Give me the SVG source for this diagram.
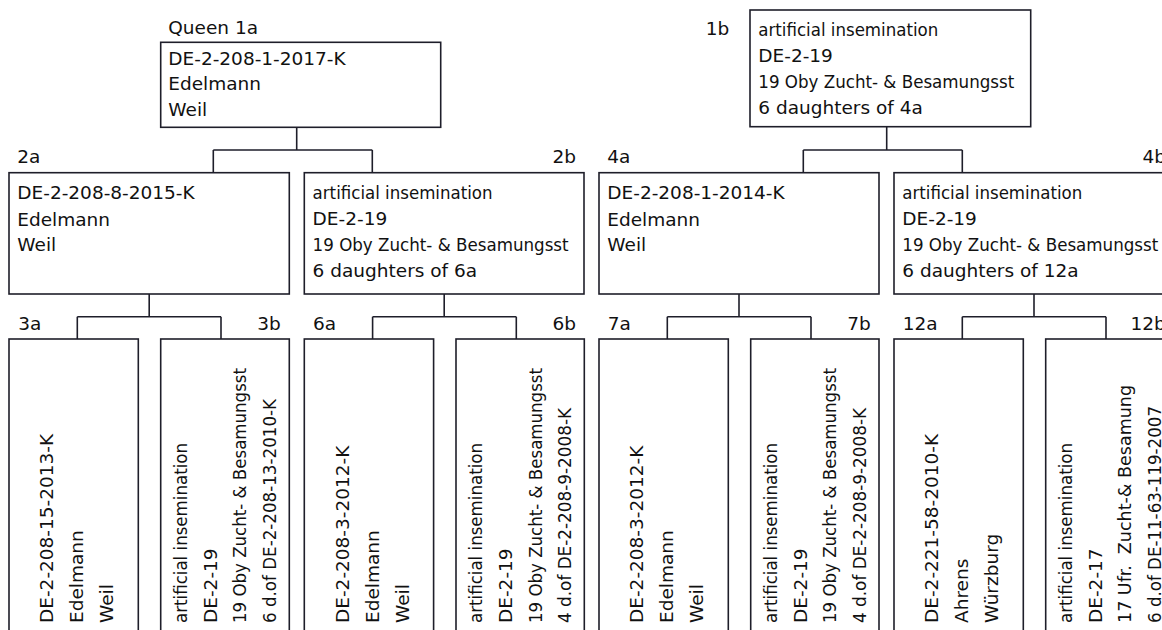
<svg xmlns="http://www.w3.org/2000/svg" width="1162" height="630" viewBox="0 0 1162 630">
<style>
.box{fill:#fff;stroke:#1e1e2a;stroke-width:1.6}
.conn path{fill:none;stroke:#1e1e2a;stroke-width:1.6}
text{font-family:"DejaVu Sans","Noto Sans",sans-serif;font-size:18.5px;fill:#111}
.cond{font-family:"DejaVu Sans Condensed","DejaVu Sans",sans-serif}
.end{text-anchor:end}
</style>
<rect width="1162" height="630" fill="#fff"/>
<g class="conn" id="connectors">
<path d="M296.7 127.3V150M213.3 150H372.3M213.3 150V172.7M372.3 150V172.7"/>
<path d="M886.7 126.7V150M803.3 150H962.3M803.3 150V172.7M962.3 150V172.7"/>
<path d="M149.2 294V316.7M77.3 316.7H221M77.3 316.7V339M221 316.7V339"/>
<path d="M444.2 294V316.7M372.6 316.7H516.3M372.6 316.7V339M516.3 316.7V339"/>
<path d="M739 294V316.7M667.3 316.7H811M667.3 316.7V339M811 316.7V339"/>
<path d="M1034 294V316.7M962.3 316.7H1106M962.3 316.7V339M1106 316.7V339"/>
</g>
<g id="n1a">
<text x="168.3" y="34.3">Queen 1a</text>
<rect class="box" x="160.7" y="42.3" width="280" height="85"/>
<text x="168.3" y="64.5">DE-2-208-1-2017-K</text>
<text x="168.3" y="90">Edelmann</text>
<text x="168.3" y="115.5">Weil</text>
</g>
<g id="n1b">
<text class="end" x="729.3" y="35">1b</text>
<rect class="box" x="750" y="10" width="280.7" height="116.7"/>
<text class="cond" x="758.3" y="36" textLength="180" lengthAdjust="spacingAndGlyphs">artificial insemination</text>
<text x="758.3" y="62.3">DE-2-19</text>
<text class="cond" x="758.3" y="88.3" textLength="256" lengthAdjust="spacingAndGlyphs">19 Oby Zucht- &amp; Besamungsst</text>
<text x="758.3" y="113.5">6 daughters of 4a</text>
</g>
<g id="n2a">
<text x="17.3" y="163.3">2a</text>
<rect class="box" x="9" y="172.7" width="280.3" height="121.3"/>
<text x="17.3" y="199.3">DE-2-208-8-2015-K</text>
<text x="17.3" y="225.5">Edelmann</text>
<text x="17.3" y="251.3">Weil</text>
</g>
<g id="n2b">
<text class="end" x="576" y="163.3">2b</text>
<rect class="box" x="304.3" y="172.7" width="279.7" height="121.3"/>
<text class="cond" x="312.6" y="198.7" textLength="180" lengthAdjust="spacingAndGlyphs">artificial insemination</text>
<text x="312.6" y="225">DE-2-19</text>
<text class="cond" x="312.6" y="251.2" textLength="256" lengthAdjust="spacingAndGlyphs">19 Oby Zucht- &amp; Besamungsst</text>
<text x="312.6" y="277.4">6 daughters of 6a</text>
</g>
<g id="n4a">
<text x="607.3" y="163.3">4a</text>
<rect class="box" x="599" y="172.7" width="280" height="121.3"/>
<text x="607.3" y="199.3">DE-2-208-1-2014-K</text>
<text x="607.3" y="225.5">Edelmann</text>
<text x="607.3" y="251.3">Weil</text>
</g>
<g id="n4b">
<text class="end" x="1166" y="163.3">4b</text>
<rect class="box" x="894" y="172.7" width="280" height="121.3"/>
<text class="cond" x="902.3" y="198.7" textLength="180" lengthAdjust="spacingAndGlyphs">artificial insemination</text>
<text x="902.3" y="225">DE-2-19</text>
<text class="cond" x="902.3" y="251.2" textLength="256" lengthAdjust="spacingAndGlyphs">19 Oby Zucht- &amp; Besamungsst</text>
<text x="902.3" y="277.4">6 daughters of 12a</text>
</g>
<g id="n3a">
<text x="18.3" y="330">3a</text>
<rect class="box" x="9" y="339" width="129.3" height="310"/>
<text transform="translate(53.3,623) rotate(-90)">DE-2-208-15-2013-K</text>
<text transform="translate(83.3,623) rotate(-90)">Edelmann</text>
<text transform="translate(113.3,623) rotate(-90)">Weil</text>
</g>
<g id="n3b">
<text class="end" x="280.7" y="330">3b</text>
<rect class="box" x="160.7" y="339" width="128.6" height="310"/>
<text class="cond" transform="translate(186.7,623) rotate(-90)" textLength="180" lengthAdjust="spacingAndGlyphs">artificial insemination</text>
<text transform="translate(216.5,623) rotate(-90)">DE-2-19</text>
<text class="cond" transform="translate(246.3,623) rotate(-90)" textLength="255" lengthAdjust="spacingAndGlyphs">19 Oby Zucht- &amp; Besamungsst</text>
<text class="cond" transform="translate(276.1,623) rotate(-90)" textLength="224" lengthAdjust="spacingAndGlyphs">6 d.of DE-2-208-13-2010-K</text>
</g>
<g id="n6a">
<text x="313" y="330">6a</text>
<rect class="box" x="304.3" y="339" width="129.3" height="310"/>
<text transform="translate(348.6,623) rotate(-90)">DE-2-208-3-2012-K</text>
<text transform="translate(378.6,623) rotate(-90)">Edelmann</text>
<text transform="translate(408.6,623) rotate(-90)">Weil</text>
</g>
<g id="n6b">
<text class="end" x="576" y="330">6b</text>
<rect class="box" x="456" y="339" width="128.3" height="310"/>
<text class="cond" transform="translate(482,623) rotate(-90)" textLength="180" lengthAdjust="spacingAndGlyphs">artificial insemination</text>
<text transform="translate(511.8,623) rotate(-90)">DE-2-19</text>
<text class="cond" transform="translate(541.6,623) rotate(-90)" textLength="255" lengthAdjust="spacingAndGlyphs">19 Oby Zucht- &amp; Besamungsst</text>
<text class="cond" transform="translate(571.4,623) rotate(-90)" textLength="215" lengthAdjust="spacingAndGlyphs">4 d.of DE-2-208-9-2008-K</text>
</g>
<g id="n7a">
<text x="607.8" y="330">7a</text>
<rect class="box" x="599" y="339" width="129.3" height="310"/>
<text transform="translate(643.3,623) rotate(-90)">DE-2-208-3-2012-K</text>
<text transform="translate(673.3,623) rotate(-90)">Edelmann</text>
<text transform="translate(703.3,623) rotate(-90)">Weil</text>
</g>
<g id="n7b">
<text class="end" x="870.7" y="330">7b</text>
<rect class="box" x="750.7" y="339" width="128.3" height="310"/>
<text class="cond" transform="translate(776.7,623) rotate(-90)" textLength="180" lengthAdjust="spacingAndGlyphs">artificial insemination</text>
<text transform="translate(806.5,623) rotate(-90)">DE-2-19</text>
<text class="cond" transform="translate(836.3,623) rotate(-90)" textLength="255" lengthAdjust="spacingAndGlyphs">19 Oby Zucht- &amp; Besamungsst</text>
<text class="cond" transform="translate(866.1,623) rotate(-90)" textLength="215" lengthAdjust="spacingAndGlyphs">4 d.of DE-2-208-9-2008-K</text>
</g>
<g id="n12a">
<text x="902.8" y="330">12a</text>
<rect class="box" x="894" y="339" width="129.3" height="310"/>
<text transform="translate(938.3,623) rotate(-90)">DE-2-221-58-2010-K</text>
<text transform="translate(968.3,623) rotate(-90)">Ahrens</text>
<text transform="translate(998.3,623) rotate(-90)">Würzburg</text>
</g>
<g id="n12b">
<text class="end" x="1165.7" y="330">12b</text>
<rect class="box" x="1045.7" y="339" width="128.3" height="310"/>
<text class="cond" transform="translate(1071.7,623) rotate(-90)" textLength="180" lengthAdjust="spacingAndGlyphs">artificial insemination</text>
<text transform="translate(1101.5,623) rotate(-90)">DE-2-17</text>
<text class="cond" transform="translate(1131.3,623) rotate(-90)" textLength="238" lengthAdjust="spacingAndGlyphs" xml:space="preserve">17 Ufr.  Zucht-&amp; Besamung</text>
<text class="cond" transform="translate(1161.1,623) rotate(-90)" textLength="217" lengthAdjust="spacingAndGlyphs">6 d.of DE-11-63-119-2007</text>
</g>
</svg>
